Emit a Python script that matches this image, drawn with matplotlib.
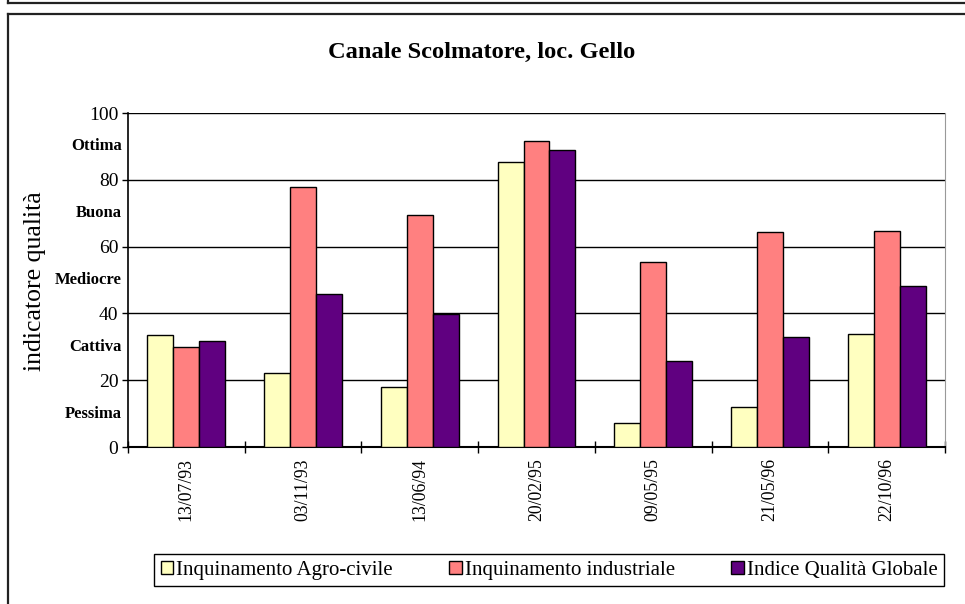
import matplotlib
matplotlib.use("Agg")
import matplotlib.pyplot as plt
from matplotlib.lines import Line2D
from matplotlib.patches import Patch
import numpy as np

plt.rcParams['font.family'] = ['Liberation Serif', 'DejaVu Serif']

dates = ["13/07/93", "03/11/93", "13/06/94", "20/02/95", "09/05/95", "21/05/96", "22/10/96"]
series_names = ["Inquinamento Agro-civile", "Inquinamento industriale", "Indice Qualità Globale"]
agro = [33.4, 22.2, 18.1, 85.4, 7.3, 12.0, 33.8]
industriale = [29.9, 77.9, 69.5, 91.7, 55.4, 64.3, 64.7]
globale = [31.7, 45.8, 39.8, 89.0, 25.8, 32.9, 48.2]
quality_labels = ["Pessima", "Cattiva", "Mediocre", "Buona", "Ottima"]
quality_pos = [10, 30, 50, 70, 90]
yticks = [0, 20, 40, 60, 80, 100]

colors = ["#FFFFC0", "#FF8080", "#600080"]

W, H = 965, 604
fig = plt.figure(figsize=(W / 100, H / 100), dpi=100)

# frame lines
fl = dict(color="#222222", lw=1.6, transform=fig.transFigure, figure=fig)
fig.lines.append(Line2D([8 / W, 1], [1 - 14 / H, 1 - 14 / H], **fl))
fig.lines.append(Line2D([8 / W, 8 / W], [0, 1 - 14 / H], **fl))
fig.lines.append(Line2D([8 / W, 1], [1 - 3 / H, 1 - 3 / H], **fl))
fig.lines.append(Line2D([8 / W, 8 / W], [1 - 3 / H, 1], **fl))

ax = fig.add_axes([128 / W, 1 - 447 / H, (945 - 128) / W, (447 - 113) / H])

x = np.arange(len(dates))
bw = 1 / 4.5
for i, (vals, c) in enumerate(zip([agro, industriale, globale], colors)):
    ax.bar(x + (i - 1) * bw, vals, width=bw, color=c, edgecolor="black", linewidth=1.0, zorder=3)

ax.set_xlim(-0.5, len(dates) - 0.5)
ax.set_ylim(0, 100)
ax.set_yticks(yticks)
ax.set_yticklabels([str(v) for v in yticks], fontsize=14)
ax.tick_params(axis="y", direction="out", length=4, width=1, pad=3)
ax.grid(axis="y", color="black", linewidth=1.0, zorder=1)

ax.set_xticks(x)
ax.set_xticklabels(dates, rotation=90, fontsize=12.8)
ax.tick_params(axis="x", which="major", length=0, pad=8)
ax.set_xticks(np.arange(-0.5, len(dates)), minor=True)
ax.tick_params(axis="x", which="minor", direction="inout", length=9, width=1)

ax.spines["top"].set_visible(False)
ax.spines["right"].set_color("#999999")
ax.spines["left"].set_linewidth(1.2)
ax.spines["bottom"].set_linewidth(1.5)

for p, lab in zip(quality_pos, quality_labels):
    ax.text(-6 / (945 - 128), p, lab, transform=ax.get_yaxis_transform(), ha="right", va="center",
            fontsize=12, fontweight="bold")

fig.text(35 / W, 1 - 281 / H, "indicatore qualità", rotation=90, ha="center", va="center", fontsize=18.5)
fig.text(482 / W, 1 - 52 / H, "Canale Scolmatore, loc. Gello", ha="center", va="center",
         fontsize=17.6, fontweight="bold")

handles = [Patch(facecolor=c, edgecolor="black", linewidth=1.0) for c in colors]
leg = fig.legend(handles, series_names, loc="center", ncol=3,
                 bbox_to_anchor=(549 / W, 1 - 570 / H), fontsize=15,
                 frameon=True, fancybox=False, edgecolor="black", framealpha=1,
                 handlelength=0.6, handleheight=0.6, handletextpad=0.15,
                 columnspacing=2.7, borderpad=0.3, borderaxespad=0)
leg.get_frame().set_linewidth(1.0)

fig.savefig("out.png", dpi=100)
